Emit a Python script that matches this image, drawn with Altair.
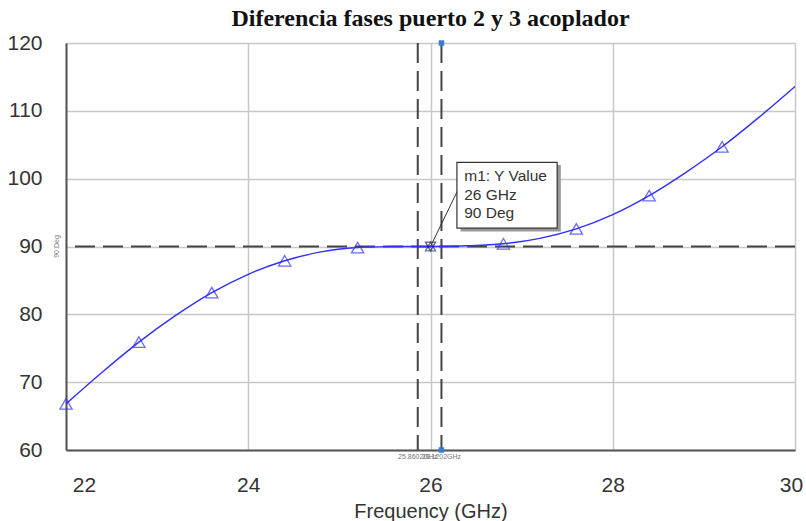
import altair as alt
import pandas as pd

# curve
freq = [22.0, 22.4, 22.8, 23.2, 23.6, 24.0, 24.4, 24.8, 25.2, 25.6, 26.0,
        26.4, 26.8, 27.2, 27.6, 28.0, 28.4, 28.8, 29.2, 29.6, 30.0]
phase = [66.8, 71.5, 75.9, 79.8, 83.2, 85.9, 87.9, 89.2, 89.85, 90.0, 90.0,
         90.1, 90.4, 91.2, 92.6, 94.7, 97.5, 100.9, 104.7, 109.0, 113.6]

# triangle markers
mk_freq = [22.0, 22.8, 23.6, 24.4, 25.2, 26.8, 27.6, 28.4, 29.2]
mk_phase = [66.8, 75.9, 83.2, 87.9, 89.85, 90.4, 92.6, 97.5, 104.7]

# marker m1 and marker lines
m1_freq, m1_phase = 26.0, 90.0
vlines = [25.8602, 26.1202]
vline_labels = ["25.8602GHz", "26.1202GHz"]
box_lines = ["m1: Y Value", "26 GHz", "90 Deg"]

x_ticks = [22, 24, 26, 28, 30]
y_ticks = [60, 70, 80, 90, 100, 110, 120]

FONT = "Liberation Sans"
xs = alt.Scale(domain=[22, 30], nice=False)
ys = alt.Scale(domain=[60, 120], nice=False)

curve_df = pd.DataFrame({"f": freq, "p": phase})
mk_df = pd.DataFrame({"f": mk_freq, "p": mk_phase})

base_x = alt.X("f:Q", scale=xs, title="Frequency (GHz)",
               axis=alt.Axis(values=x_ticks, format="d", grid=True, gridColor="#c8c8c8",
                             gridWidth=1.5, tickSize=0, labelPadding=24, labelFontSize=21,
                             labelFlush=False,
                             labelOffset=alt.ExprRef("datum.value == 22 ? 18 : (datum.value == 30 ? -4 : 0)"),
                             labelFont=FONT, labelColor="#333", titleFont=FONT,
                             titleFontSize=20, titleFontWeight="normal", titleColor="#333",
                             titlePadding=6, domainColor="#555", domainWidth=2))
base_y = alt.Y("p:Q", scale=ys, title=None,
               axis=alt.Axis(values=y_ticks, grid=True, gridColor="#c8c8c8", gridWidth=1.5,
                             tickSize=0, labelPadding=24, labelFontSize=21, labelFont=FONT,
                             labelColor="#333", domainColor="#555", domainWidth=2))

grid_layer = alt.Chart(curve_df).mark_point(opacity=0).encode(x=base_x, y=base_y)

hline = alt.Chart(pd.DataFrame({"p": [m1_phase]})).mark_rule(
    color="#444", strokeWidth=2, strokeDash=[20, 8]).encode(y=alt.Y("p:Q", scale=ys))

vl_df = pd.DataFrame({"f": vlines, "lab": vline_labels})
vline = alt.Chart(vl_df).mark_rule(color="#444", strokeWidth=2, strokeDash=[20, 8]).encode(
    x=alt.X("f:Q", scale=xs))

vl_text = alt.Chart(vl_df).mark_text(fontSize=7, font=FONT, color="#777", dy=7).encode(
    x=alt.X("f:Q", scale=xs), y=alt.value(407), text="lab:N")

top_bot = pd.DataFrame({"f": [vlines[1], vlines[1]], "p": [120, 60]})
tb = alt.Chart(top_bot).mark_square(size=30, color="#3a7bd5", opacity=1).encode(
    x=alt.X("f:Q", scale=xs), y=alt.Y("p:Q", scale=ys))

deg_lab = alt.Chart(pd.DataFrame({"p": [m1_phase], "t": ["90 Deg"]})).mark_text(
    fontSize=7, font=FONT, color="#777", angle=270, dy=-5).encode(
    x=alt.value(-4), y=alt.Y("p:Q", scale=ys), text="t:N")

curve = alt.Chart(curve_df).mark_line(color="#2f2fff", strokeWidth=1.4,
                                      interpolate="catmull-rom").encode(
    x=alt.X("f:Q", scale=xs), y=alt.Y("p:Q", scale=ys))

tri = alt.Chart(mk_df).mark_point(shape="triangle-up", size=150, color="#2f2fff",
                                  filled=False, strokeWidth=1.3).encode(
    x=alt.X("f:Q", scale=xs), y=alt.Y("p:Q", scale=ys))

m1_df = pd.DataFrame({"f": [m1_freq], "p": [m1_phase]})
star_up = alt.Chart(m1_df).mark_point(shape="triangle-up", size=100, color="#2233aa",
                                      filled=False, strokeWidth=1.3).encode(
    x=alt.X("f:Q", scale=xs), y=alt.Y("p:Q", scale=ys))
star_dn = alt.Chart(m1_df).mark_point(shape="triangle-down", size=100, color="#222",
                                      filled=False, strokeWidth=1.3).encode(
    x=alt.X("f:Q", scale=xs), y=alt.Y("p:Q", scale=ys))

leader = alt.Chart(pd.DataFrame({"f": [m1_freq], "p": [m1_phase], "f2": [26.3], "p2": [98.3]})
                   ).mark_rule(color="#333", strokeWidth=1).encode(
    x=alt.X("f:Q", scale=xs), y=alt.Y("p:Q", scale=ys), x2="f2:Q", y2="p2:Q")

shadow = alt.Chart(pd.DataFrame({"a": [26.33], "b": [27.43], "c": [102.0], "d": [92.2]})
                   ).mark_rect(color="#999").encode(
    x=alt.X("a:Q", scale=xs), x2="b:Q", y=alt.Y("c:Q", scale=ys), y2="d:Q")
box = alt.Chart(pd.DataFrame({"a": [26.29], "b": [27.39], "c": [102.4], "d": [92.7]})
                ).mark_rect(color="white", stroke="#333", strokeWidth=1.2).encode(
    x=alt.X("a:Q", scale=xs), x2="b:Q", y=alt.Y("c:Q", scale=ys), y2="d:Q")

bt_df = pd.DataFrame({"f": [26.37] * 3, "p": [100.4, 97.6, 94.9], "t": box_lines})
box_text = alt.Chart(bt_df).mark_text(align="left", baseline="middle", fontSize=15.5,
                                      font=FONT, color="#333").encode(
    x=alt.X("f:Q", scale=xs), y=alt.Y("p:Q", scale=ys), text="t:N")

chart = alt.layer(grid_layer, hline, vline, curve, tri, star_up, star_dn, vl_text, tb,
                  deg_lab, leader, shadow, box, box_text).properties(
    width=729, height=407,
    title=alt.TitleParams("Diferencia fases puerto 2 y 3 acoplador", font="Liberation Serif",
                          fontSize=24, fontWeight="bold", color="#111", anchor="middle",
                          offset=1),
    autosize=alt.AutoSizeParams(type="none"),
    padding={"left": 66, "top": 43, "right": 11, "bottom": 71},
).configure_view(stroke="#555", strokeWidth=2).configure(background="white")

chart.save("out.html", embed_options={"renderer": "svg", "actions": False})
